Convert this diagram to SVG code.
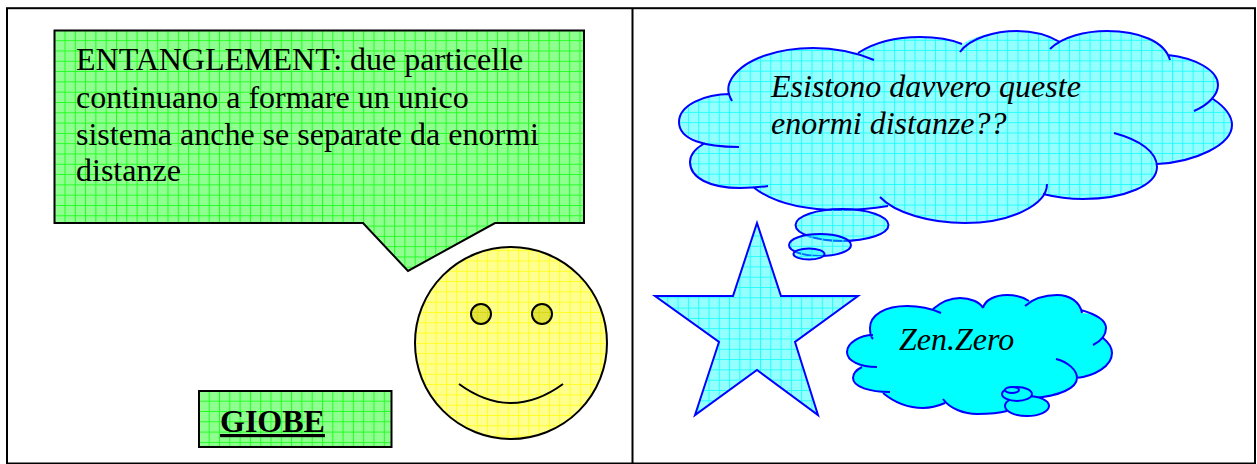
<svg xmlns="http://www.w3.org/2000/svg" width="1257" height="464" viewBox="0 0 1257 464">
<defs>
<pattern id="pg" patternUnits="userSpaceOnUse" x="2.700" y="9.300" width="10.300" height="10.300"><rect width="10.300" height="10.300" fill="#8fff8f"/><path d="M0 .5H10.300M.5 0V10.300" stroke="#22ff22" stroke-width="1" fill="none"/></pattern>
<pattern id="pc" patternUnits="userSpaceOnUse" x="8.100" y="8.900" width="10.300" height="10.300"><rect width="10.300" height="10.300" fill="#00ffff" fill-opacity=".42"/><path d="M0 .5H10.300M.5 0V10.300" stroke="#22ffff" stroke-width="1" fill="none"/></pattern>
<pattern id="py" patternUnits="userSpaceOnUse" x="3" y="3" width="10.300" height="10.300"><rect width="10.300" height="10.300" fill="#ffff8f"/><path d="M0 .5H10.300M.5 0V10.300" stroke="#ffff22" stroke-width="1" fill="none"/></pattern>
<pattern id="pe" patternUnits="userSpaceOnUse" x="3" y="3" width="10.300" height="10.300"><rect width="10.300" height="10.300" fill="#e4e440"/><path d="M0 .5H10.300M.5 0V10.300" stroke="#d8d810" stroke-width="1" fill="none"/></pattern>
</defs>
<style>
text{font-family:"Liberation Serif","Times New Roman",serif;font-size:32px;fill:#000}
.i{font-style:italic}
.k{stroke:#000;stroke-width:2;stroke-linejoin:miter}
.b{stroke:#0000ff;stroke-width:2;stroke-linejoin:miter}
.o{fill:none}
.n{stroke:none}
</style>
<rect width="1257" height="464" fill="#fff"/>
<g id="frame" fill="none" stroke="#000" stroke-width="2"><rect x="7" y="8.200" width="1248" height="455.300"/><path d="M632.500 8.200V463.500"/></g>
<g id="callout"><path class="k" fill="url(#pg)" d="M54.500 30.500H584V223H495L408 271L363 223H54.500Z"/>
<text x="76" y="70">ENTANGLEMENT: due particelle</text><text x="76" y="108">continuano a formare un unico</text><text x="76" y="145">sistema anche se separate da enormi</text><text x="76" y="181">distanze</text></g>
<g id="giobe"><rect class="k" x="199" y="391" width="192.500" height="56" fill="url(#pg)"/><text x="220" y="432" font-weight="700" text-decoration="underline">GIOBE</text></g>
<g id="smiley"><circle class="k" cx="511" cy="343" r="96" fill="url(#py)"/><circle class="k" cx="481" cy="314" r="10" fill="url(#pe)"/><circle class="k" cx="542" cy="314" r="10" fill="url(#pe)"/><path class="k o" d="M459 384Q511 422 563 384"/></g>
<g id="star"><path class="b" fill="url(#pc)" d="M757 223L781 296H858L795 342L818 415L757 370L695 415L719 342L655 296H733Z"/></g>
<g id="cloud-large">
<path class="n" fill="url(#pc)" d="M730 94C705 94 679 105 679 122C679 131 688 138 705 143C696 148 690 155 690 162C690 178 710 188 740 188L753 187C770 200 800 210 840 210C855 210 870 209 888 206C910 216 935 223 965 223C1005 223 1035 210 1043 194C1055 197 1068 199 1083 199C1125 199 1157 185 1157 164C1195 162 1232 145 1232 125C1232 115 1225 107 1213 99C1216 94 1218 90 1218 85C1218 70 1195 58 1168 55C1165 42 1140 31 1107 31C1085 31 1070 36 1060 42C1048 35 1033 31 1017 31C995 31 975 36 962 44C950 39 935 37 920 37C897 37 875 42 858 53C845 50 830 48 813 48C780 48 745 58 732 78C729 84 728 89 730 94Z"/>
<path class="b o" d="M739 147C705 147 679 140 679 122C679 105 705 94 730 94M732 101C727 92 727 86 732 78C745 58 780 48 813 48C835 48 855 52 874 60M858 53C875 42 897 37 920 37C935 37 950 39 962 44M960 52C970 38 995 31 1017 31C1033 31 1048 35 1060 42M1050 49C1062 37 1085 31 1107 31C1140 31 1165 42 1170 60M1168 55C1195 58 1218 70 1218 85C1218 95 1208 105 1194 111M1213 99C1225 107 1232 115 1232 125C1232 145 1195 162 1157 164M1114 133C1140 140 1157 152 1157 167C1157 185 1125 199 1083 199C1068 199 1055 197 1043 194M1047 184C1047 205 1010 223 965 223C930 223 895 213 880 197M888 206C870 209 855 210 840 210C800 210 772 202 753 187M768 186C755 188 748 188 740 188C710 188 690 178 690 162C690 155 696 148 705 143"/>
<ellipse class="b" cx="842" cy="225" rx="46.500" ry="16" fill="url(#pc)"/><ellipse class="b" cx="820" cy="245" rx="31" ry="11" fill="url(#pc)"/><ellipse class="b" cx="809" cy="254" rx="15.500" ry="5.500" fill="url(#pc)"/>
<text class="i" x="771" y="97">Esistono davvero queste</text><text class="i" x="771" y="134">enormi distanze??</text></g>
<g id="cloud-small">
<path class="n" fill="#00ffff" d="M873 335C860 335 847 343 847 352C847 358 853 363 862 367C856 370 853 374 853 378C853 385 868 391 883 393C895 403 910 408 923 408C930 408 938 406 945 403C952 410 965 414 977 414C990 414 1000 413 1007 411L1033 398C1060 396 1077 388 1077 378C1095 376 1112 366 1112 353C1112 347 1108 342 1103 338C1105 335 1106 332 1106 328C1106 320 1095 314 1082 313C1080 302 1070 295 1057 295C1045 295 1037 298 1029 301C1023 297 1015 295 1007 295C995 295 985 300 983 308C980 302 970 298 960 298C950 298 940 303 933 309C925 307 916 306 907 306C885 306 870 315 870 328C870 331 871 333 873 335Z"/>
<path class="b o" d="M877 367C860 367 847 361 847 352C847 343 860 335 873 335M873 339C870 336 870 332 870 328C870 315 885 306 907 306C918 306 930 308 941 313M933 309C940 303 950 298 960 298C970 298 980 302 983 308M983 308C985 300 995 295 1007 295C1015 295 1023 297 1029 301M1025 306C1033 299 1045 295 1057 295C1070 295 1080 302 1082 313M1081 310C1095 314 1106 320 1106 328C1106 335 1101 341 1093 345M1103 338C1108 342 1112 347 1112 353C1112 366 1095 376 1076 378M1056 359C1068 362 1077 370 1077 378C1077 388 1060 396 1033 398M943 399C950 409 965 414 977 414C990 414 1000 413 1007 411M883 393C895 403 910 408 923 408C930 408 938 406 945 403M890 392C870 392 853 387 853 378C853 374 856 370 862 367"/>
<ellipse class="b" cx="1027" cy="406" rx="22" ry="10" fill="#00ffff"/><ellipse class="b" cx="1017" cy="394" rx="15" ry="7" fill="#00ffff"/><ellipse class="b" cx="1012" cy="390" rx="7" ry="3" fill="#00ffff"/>
<text class="i" x="899" y="350">Zen.Zero</text></g>
</svg>
